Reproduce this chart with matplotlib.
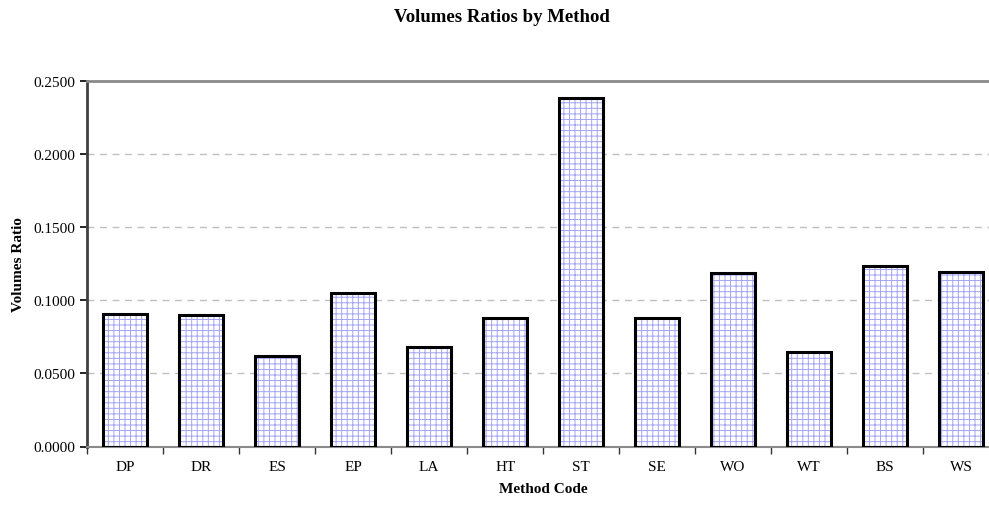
import matplotlib.pyplot as plt
import numpy as np

plt.rcParams['font.family'] = ['Liberation Serif', 'DejaVu Serif']
plt.rcParams['hatch.linewidth'] = 0.7

# volumes ratio per method code
codes = ['DP', 'DR', 'ES', 'EP', 'LA', 'HT', 'ST', 'SE', 'WO', 'WT', 'BS', 'WS']
ratios = [0.0909, 0.0902, 0.0620, 0.1053, 0.0681, 0.0882,
          0.2384, 0.0878, 0.1186, 0.0645, 0.1234, 0.1197]

W, H = 989, 506
fig = plt.figure(figsize=(W / 100, H / 100), dpi=100)
ax = fig.add_axes([87.3 / W, (H - 447.5) / H, 911.7 / W, 365.2 / H])

x = np.arange(len(codes))
# hatched fill first, then the black outline on top
ax.bar(x, ratios, width=0.58, color='white', edgecolor='#a4a4f4',
       hatch='+++', linewidth=0, zorder=2)
ax.bar(x, ratios, width=0.58, fill=False, edgecolor='black',
       linewidth=2.2, zorder=3)

ax.set_xlim(-0.5, len(codes) - 0.5)
ax.set_ylim(0, 0.25)
yt = np.arange(0, 0.2501, 0.05)
ax.set_yticks(yt)
ax.set_yticklabels([f'{v:.4f}' for v in yt], fontsize=11)
ax.set_xticks(x)
ax.set_xticklabels(codes, fontsize=11)
ax.set_xticks(np.arange(-0.5, len(codes), 1), minor=True)
ax.tick_params(axis='x', which='major', length=0, pad=10)
ax.tick_params(axis='x', which='minor', length=5, width=1, color='#333333')
ax.tick_params(axis='y', length=5, width=1.2, pad=4)

for v in np.arange(0.05, 0.21, 0.05):
    ax.axhline(v, color='#c0c0c0', linestyle=(0, (5, 4)), linewidth=1, zorder=1)

ax.spines['left'].set_color('#404040')
ax.spines['left'].set_linewidth(2)
ax.spines['top'].set_color('#8a8a8a')
ax.spines['top'].set_linewidth(2)
ax.spines['bottom'].set_color('#8a8a8a')
ax.spines['bottom'].set_linewidth(1.5)
ax.spines['right'].set_visible(False)

ax.set_xlabel('Method Code', fontsize=11, fontweight='bold', labelpad=6)
ax.set_ylabel('Volumes Ratio', fontsize=11, fontweight='bold', labelpad=6)
fig.text(502 / W, 1 - 18 / H, 'Volumes Ratios by Method', ha='center', va='center',
         fontsize=13.5, fontweight='bold')

fig.savefig('out.png', dpi=100)
